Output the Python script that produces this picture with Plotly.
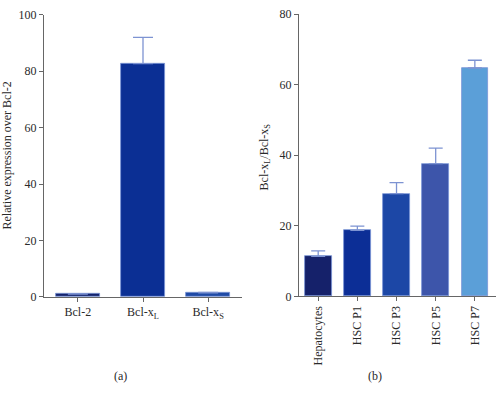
import plotly.graph_objects as go

# Panel (a)
genes = ["Bcl-2", "Bcl-x<sub>L</sub>", "Bcl-x<sub>S</sub>"]
rel_expr = [1.0, 82.7, 1.5]
rel_err = [0.2, 9.3, 0.1]
colors_a = ["#15246e", "#0b2f94", "#1f4aa6"]

# Panel (b)
cells = ["Hepatocytes", "HSC P1", "HSC P3", "HSC P5", "HSC P7"]
ratio = [11.3, 18.7, 29.1, 37.6, 64.7]
ratio_err = [1.6, 1.2, 3.1, 4.4, 2.2]
colors_b = ["#15216a", "#0c2e96", "#1c47a6", "#3d55aa", "#5b9fd8"]

W, H = 496, 393
FONT = "Liberation Serif, Times New Roman, serif"
ERR_COLOR = "#7d93d2"
TXT = "#2a2a2a"

fig = go.Figure()
fig.add_trace(go.Bar(
    x=list(range(len(genes))), y=rel_expr, width=0.68,
    marker=dict(color=colors_a, line=dict(color="#7a94d6", width=0.8)),
    error_y=dict(type="data", array=rel_err, arrayminus=[0] * len(genes), symmetric=False,
                 color=ERR_COLOR, thickness=1.3, width=10),
    xaxis="x", yaxis="y", showlegend=False,
))
fig.add_trace(go.Bar(
    x=list(range(len(cells))), y=ratio, width=0.68,
    marker=dict(color=colors_b, line=dict(color="#7a94d6", width=0.8)),
    error_y=dict(type="data", array=ratio_err, arrayminus=[0] * len(cells), symmetric=False,
                 color=ERR_COLOR, thickness=1.3, width=7),
    xaxis="x2", yaxis="y2", showlegend=False,
))

axis_common = dict(showgrid=False, zeroline=False, showline=True, linecolor="#666666",
                   linewidth=1, ticks="outside", ticklen=4, tickcolor="#666666",
                   tickfont=dict(family=FONT, size=12, color=TXT))

ya_top = 1 - 8 / H
ya_bot = 1 - 300.7 / H
yb_top = 1 - 7.3 / H
yb_bot = 1 - 300 / H

fig.update_layout(
    width=W, height=H,
    margin=dict(l=0, r=0, t=0, b=0),
    paper_bgcolor="white", plot_bgcolor="white",
    bargap=0,
    xaxis=dict(domain=[44 / W, 242 / W], range=[-0.52, 2.52], tickvals=list(range(len(genes))),
               ticktext=genes, anchor="y", **axis_common),
    yaxis=dict(domain=[ya_bot, ya_top], range=[0, 100], tickvals=[0, 20, 40, 60, 80, 100],
               anchor="x", **axis_common),
    xaxis2=dict(domain=[299 / W, 1.0], range=[-0.49, 4.54], tickvals=list(range(len(cells))),
                ticktext=cells, tickangle=-90, anchor="y2", **axis_common),
    yaxis2=dict(domain=[yb_bot, yb_top], range=[0, 80], tickvals=[0, 20, 40, 60, 80],
                anchor="x2", **axis_common),
    annotations=[
        dict(text="Relative expression over Bcl-2", x=7 / W, y=1 - 154 / H, xref="paper", yref="paper",
             textangle=-90, showarrow=False, xanchor="center", yanchor="middle",
             font=dict(family=FONT, size=12, color=TXT)),
        dict(text="Bcl-x<sub>L</sub>/Bcl-x<sub>S</sub>", x=265 / W, y=1 - 156 / H, xref="paper", yref="paper",
             textangle=-90, showarrow=False, xanchor="center", yanchor="middle",
             font=dict(family=FONT, size=12, color=TXT)),
        dict(text="(a)", x=120 / W, y=1 - 383 / H, xref="paper", yref="paper", showarrow=False,
             xanchor="center", yanchor="middle", font=dict(family=FONT, size=12, color=TXT)),
        dict(text="(b)", x=375 / W, y=1 - 383 / H, xref="paper", yref="paper", showarrow=False,
             xanchor="center", yanchor="middle", font=dict(family=FONT, size=12, color=TXT)),
    ],
)

fig.write_html("out.html")
